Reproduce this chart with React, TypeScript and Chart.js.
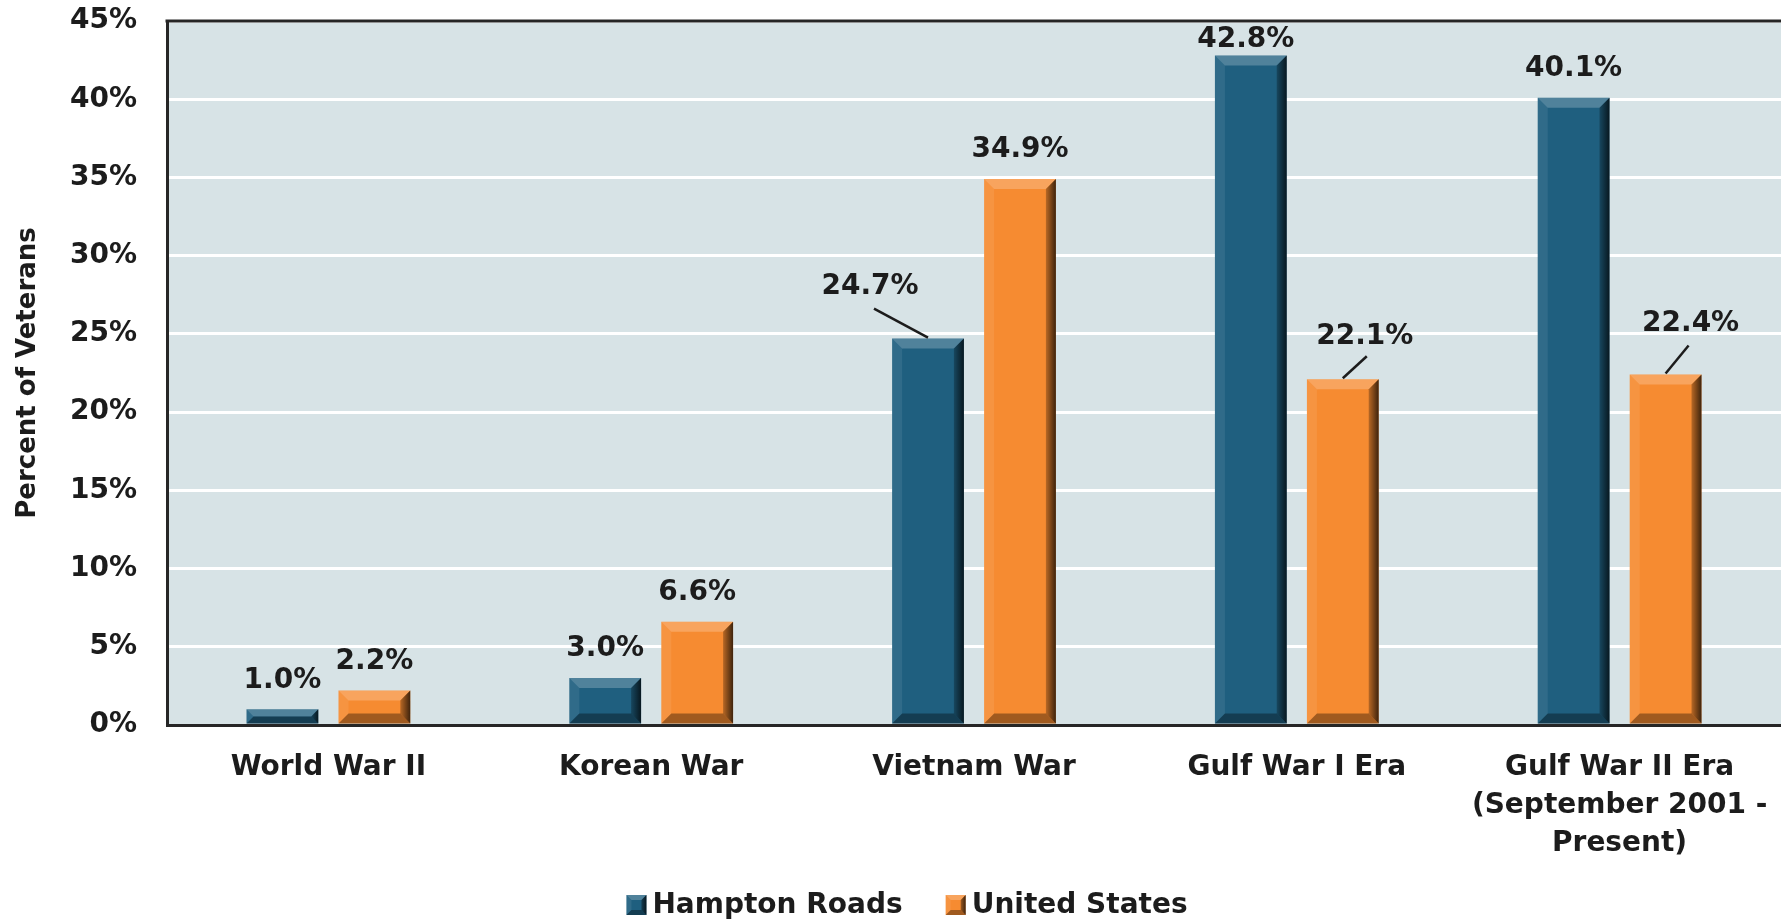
import { useEffect, useRef } from "react";
import { Chart, registerables } from "chart.js";

Chart.register(...registerables);

const categories: string[][] = [
  ["World War II"],
  ["Korean War"],
  ["Vietnam War"],
  ["Gulf War I Era"],
  ["Gulf War II Era", "(September 2001 -", "Present)"],
];
const seriesNames = ["Hampton Roads", "United States"];
const hamptonRoads = [1.0, 3.0, 24.7, 42.8, 40.1];
const unitedStates = [2.2, 6.6, 34.9, 22.1, 22.4];
const yMin = 0;
const yMax = 45;
const yStep = 5;

const FONT = "'DejaVu Sans', sans-serif";
const TEXT = "#1c1c1c";
const COLORS = ["#1f5f7f", "#f68b31"];

// label placement styling (offset of label centre from bar top-centre, optional leader end offset)
type Place = { dx: number; dy: number; leader?: [number, number] };
const DEF: Place = { dx: 0, dy: -29 };
const placements: Place[][] = [
  [DEF, DEF, { dx: -58, dy: -52, leader: [4, 22] }, { dx: -5, dy: -16 }, DEF],
  [DEF, DEF, DEF, { dx: 22, dy: -43, leader: [2, 20] }, { dx: 25, dy: -51, leader: [-2, 22] }],
];

const W = 1781;
const H = 924;

function bevel(ctx: CanvasRenderingContext2D, l: number, t: number, r: number, btm: number, b: number) {
  ctx.save();
  ctx.fillStyle = "rgba(255,255,255,0.22)";
  ctx.beginPath();
  ctx.moveTo(l, t);
  ctx.lineTo(r, t);
  ctx.lineTo(r - b, t + b);
  ctx.lineTo(l + b, t + b);
  ctx.closePath();
  ctx.fill();
  ctx.fillStyle = "rgba(255,255,255,0.08)";
  ctx.beginPath();
  ctx.moveTo(l, t);
  ctx.lineTo(l + b, t + b);
  ctx.lineTo(l + b, btm - b);
  ctx.lineTo(l, btm);
  ctx.closePath();
  ctx.fill();
  const g = ctx.createLinearGradient(r - b - 4, 0, r, 0);
  g.addColorStop(0, "rgba(0,0,0,0.05)");
  g.addColorStop(1, "rgba(0,0,0,0.75)");
  ctx.fillStyle = g;
  ctx.beginPath();
  ctx.moveTo(r, t);
  ctx.lineTo(r, btm);
  ctx.lineTo(r - b, btm - b);
  ctx.lineTo(r - b, t + b);
  ctx.closePath();
  ctx.fill();
  ctx.fillStyle = "rgba(0,0,0,0.35)";
  ctx.beginPath();
  ctx.moveTo(l, btm);
  ctx.lineTo(r, btm);
  ctx.lineTo(r - b, btm - b);
  ctx.lineTo(l + b, btm - b);
  ctx.closePath();
  ctx.fill();
  ctx.restore();
}

const bgPlugin = {
  id: "bgPlugin",
  beforeDraw(chart: any) {
    const { ctx, chartArea: a } = chart;
    ctx.save();
    ctx.fillStyle = "#ffffff";
    ctx.fillRect(0, 0, chart.width, chart.height);
    ctx.fillStyle = "#d7e3e6";
    ctx.fillRect(a.left, a.top, a.right - a.left, a.bottom - a.top);
    ctx.restore();
  },
  beforeDatasetsDraw(chart: any) {
    const { ctx, chartArea: a } = chart;
    ctx.save();
    ctx.strokeStyle = "#262626";
    ctx.lineWidth = 3;
    ctx.beginPath();
    ctx.moveTo(a.left - 1.5, a.top);
    ctx.lineTo(a.right, a.top);
    ctx.stroke();
    ctx.restore();
  },
};

const bevelPlugin = {
  id: "bevelPlugin",
  afterDatasetsDraw(chart: any) {
    const { ctx } = chart;
    chart.data.datasets.forEach((_ds: any, di: number) => {
      const meta = chart.getDatasetMeta(di);
      meta.data.forEach((bar: any) => {
        const { x, y, base, width } = bar.getProps(["x", "y", "base", "width"], true);
        const b = Math.min(10, (base - y) / 2, width / 4);
        bevel(ctx, x - width / 2, y, x + width / 2, base, b);
      });
    });
  },
};

const labelPlugin = {
  id: "labelPlugin",
  afterDatasetsDraw(chart: any) {
    const { ctx } = chart;
    ctx.save();
    ctx.font = `bold 28px ${FONT}`;
    ctx.fillStyle = TEXT;
    ctx.textAlign = "center";
    ctx.textBaseline = "middle";
    chart.data.datasets.forEach((ds: any, di: number) => {
      const meta = chart.getDatasetMeta(di);
      meta.data.forEach((bar: any, i: number) => {
        const { x, y } = bar.getProps(["x", "y"], true);
        const p = placements[di][i] || DEF;
        const lx = x + p.dx;
        const ly = y + p.dy;
        if (p.leader) {
          ctx.strokeStyle = TEXT;
          ctx.lineWidth = 2.5;
          ctx.beginPath();
          ctx.moveTo(x, y - 1);
          ctx.lineTo(lx + p.leader[0], ly + p.leader[1]);
          ctx.stroke();
        }
        ctx.fillText(`${Number(ds.data[i]).toFixed(1)}%`, lx, ly);
      });
    });
    ctx.restore();
  },
};

// legend drawn from the chart's datasets
const legendPlugin = {
  id: "customLegend",
  afterDraw(chart: any) {
    const { ctx } = chart;
    const cx = 907;
    const cy = 905;
    const box = 20;
    const gap = 6;
    const itemGap = 43;
    ctx.save();
    ctx.font = `bold 28px ${FONT}`;
    ctx.textBaseline = "middle";
    ctx.textAlign = "left";
    ctx.fillStyle = TEXT;
    const items = chart.data.datasets.map((ds: any) => ({
      text: ds.label,
      color: ds.backgroundColor,
      w: ctx.measureText(ds.label).width,
    }));
    const total = items.reduce((s: number, it: any) => s + box + gap + it.w, 0) + itemGap * (items.length - 1);
    let x = cx - total / 2;
    items.forEach((it: any) => {
      ctx.fillStyle = it.color;
      ctx.fillRect(x, cy - box / 2, box, box);
      bevel(ctx, x, cy - box / 2, x + box, cy + box / 2, 5);
      ctx.fillStyle = TEXT;
      ctx.fillText(it.text, x + box + gap, cy + 1);
      x += box + gap + it.w + itemGap;
    });
    ctx.restore();
  },
};

export default function App() {
  const ref = useRef<HTMLCanvasElement | null>(null);
  useEffect(() => {
    document.body.style.margin = "0";
    document.body.style.overflow = "hidden";
    const canvas = ref.current;
    if (!canvas) return;
    const chart = new Chart(canvas, {
      type: "bar",
      data: {
        labels: categories,
        datasets: [
          {
            label: seriesNames[0],
            data: hamptonRoads,
            backgroundColor: COLORS[0],
            borderWidth: 0,
            categoryPercentage: 0.57,
            barPercentage: 0.78,
          },
          {
            label: seriesNames[1],
            data: unitedStates,
            backgroundColor: COLORS[1],
            borderWidth: 0,
            categoryPercentage: 0.57,
            barPercentage: 0.78,
          },
        ],
      },
      options: {
        responsive: false,
        animation: false,
        layout: { padding: { top: 21, right: 0, bottom: 0, left: 0 } },
        plugins: {
          tooltip: { enabled: false },
          legend: { display: false },
        },
        scales: {
          x: {
            grid: { display: false, drawTicks: false },
            border: { display: true, color: "#262626", width: 3 },
            ticks: {
              color: TEXT,
              padding: 24,
              maxRotation: 0,
              autoSkip: false,
              font: { family: FONT, size: 28, weight: "bold", lineHeight: 1.35 },
            },
            afterFit(scale: any) {
              scale.height = 199;
              scale.paddingLeft = 0;
              scale.paddingRight = 0;
            },
          },
          y: {
            min: yMin,
            max: yMax,
            grid: { color: "#ffffff", lineWidth: 3, drawTicks: false },
            border: { display: true, color: "#262626", width: 3 },
            ticks: {
              stepSize: yStep,
              color: TEXT,
              padding: 30,
              font: { family: FONT, size: 28, weight: "bold" },
              callback: (v: any) => `${v}%`,
            },
            title: {
              display: true,
              text: "Percent of Veterans",
              color: TEXT,
              padding: { top: 13, bottom: 0 },
              font: { family: FONT, size: 26, weight: "bold" },
            },
            afterFit(scale: any) {
              scale.width = 167;
              scale.paddingTop = 0;
              scale.paddingBottom = 0;
            },
          },
        },
      },
      plugins: [bgPlugin, bevelPlugin, labelPlugin, legendPlugin],
    });
    return () => chart.destroy();
  }, []);
  return (
    <div style={{ width: W, height: H }}>
      <canvas ref={ref} width={W} height={H} style={{ display: "block" }} />
    </div>
  );
}
